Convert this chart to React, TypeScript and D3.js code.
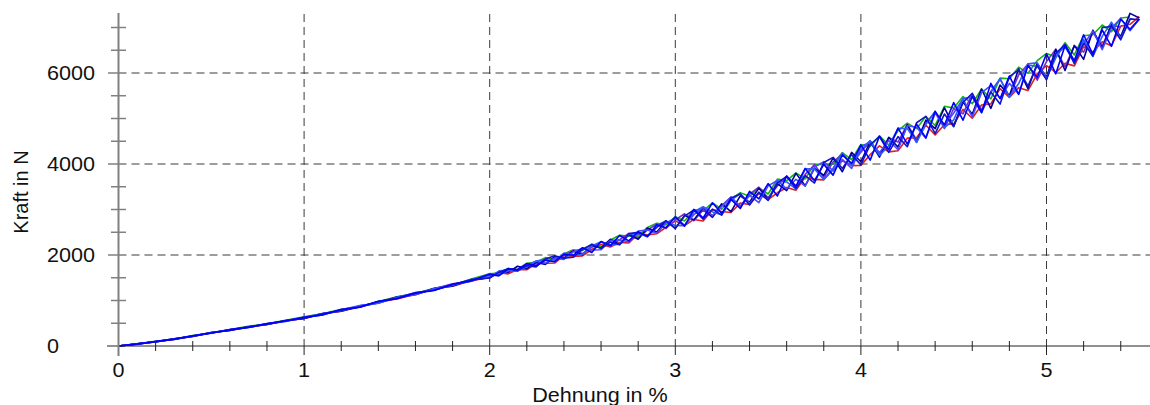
import React from 'react';
import * as d3 from 'd3';

// Dehnung in % (sample positions: 0.1 steps up to 2 %, then 0.05 steps)
const strain = [
  0, 0.1, 0.2, 0.3, 0.4, 0.5, 0.6, 0.7, 0.8, 0.9,
  1.0, 1.1, 1.2, 1.3, 1.4, 1.5, 1.6, 1.7, 1.8, 1.9,
  2.0, 2.05, 2.1, 2.15, 2.2, 2.25, 2.3, 2.35, 2.4, 2.45,
  2.5, 2.55, 2.6, 2.65, 2.7, 2.75, 2.8, 2.85, 2.9, 2.95,
  3.0, 3.05, 3.1, 3.15, 3.2, 3.25, 3.3, 3.35, 3.4, 3.45,
  3.5, 3.55, 3.6, 3.65, 3.7, 3.75, 3.8, 3.85, 3.9, 3.95,
  4.0, 4.05, 4.1, 4.15, 4.2, 4.25, 4.3, 4.35, 4.4, 4.45,
  4.5, 4.55, 4.6, 4.65, 4.7, 4.75, 4.8, 4.85, 4.9, 4.95,
  5.0, 5.05, 5.1, 5.15, 5.2, 5.25, 5.3, 5.35, 5.4, 5.45, 5.5,
];

// Kraft in N, middle of the band
const meanForce = [
  0, 45, 95, 150, 218, 290, 352, 417, 484, 551,
  620, 700, 783, 868, 960, 1055, 1150, 1245, 1342, 1440,
  1540, 1592, 1645, 1697, 1750, 1804, 1858, 1913, 1968, 2024,
  2080, 2140, 2200, 2261, 2323, 2385, 2447, 2512, 2577, 2643,
  2710, 2776, 2842, 2909, 2977, 3045, 3113, 3181, 3250, 3320,
  3390, 3467, 3545, 3624, 3703, 3782, 3862, 3946, 4030, 4115,
  4200, 4285, 4370, 4456, 4542, 4629, 4717, 4807, 4897, 4988,
  5080, 5182, 5285, 5388, 5492, 5597, 5702, 5808, 5915, 6022,
  6130, 6232, 6335, 6437, 6540, 6642, 6745, 6847, 6950, 7050, 7150,
];

// scatter of each specimen around the band (N)
const devRed = [
  0, -4, 3, -8, -2, 6, -10, -3, -12, 2, -15, 8, -20, -6, 10, -22, -10, 14, -26, -8,
  -30, 20, -60, -15, -75, 10, -40, -90, 25, -55, -100, -20, 30, -85, -45, -120, 15, -70, -110, -35,
  40, -130, -60, -160, 20, -90, -180, -40, -140, 30, -170, -100, -60, -200, 10, -120, -210, -70, 40, -150,
  -230, -80, 30, -190, -250, -60, -140, 50, -260, -120, -200, 20, -280, -90, -170, 60, -240, -130, -300, -40,
  30, -220, -120, -280, 40, -180, -60, -250, 80, 20, 90,
];
const devGreen = [
  0, 5, 8, 3, 11, -2, 9, 14, 4, 12, 20, 6, 24, -6, 18, 28, 4, 22, -8, 30,
  45, 10, 60, -15, 70, 35, 85, -20, 55, 90, 15, 100, -25, 70, 110, 30, -35, 95, 120, 20,
  130, -30, 150, 60, 170, -40, 110, 190, 40, 160, -50, 200, 90, 180, -30, 210, 130, 50, 220, -20,
  230, 100, 250, -40, 190, 270, 60, 240, -50, 280, 150, 300, 40, 260, -60, 290, 170, 320, 80, 250,
  300, 120, 330, -40, 280, 200, 310, 60, 260, 180,
];
const devPurple = [
  0, 2, -3, 6, -1, 8, -5, 5, -8, 3, 10, -12, 20, -16, 6, 18, -22, 12, 25, -14,
  20, -45, 40, -15, 55, -35, 45, -60, 20, 70, -50, 30, 85, -70, 15, 90, -80, 40, 100, -60,
  60, 130, -90, 80, -150, 40, 160, -110, 90, 170, -130, 50, 190, -150, 70, 200, -160, 100, 180, -120,
  60, 220, -170, 120, -60, 240, -190, 90, 250, -210, 140, -80, 260, -200, 100, 270, -220, 150, 280, -180,
  120, 290, -200, 160, -80, 260, -150, 200, 60,
];
const devNavy = [
  0, 3, -4, 5, -7, 4, -9, 7, -6, 8, -12, 16, -20, 13, -16, 22, -14, 18, -24, 12,
  -40, 48, -25, 55, -50, 35, -65, 50, -35, 62, -80, 70, -45, 85, -90, 60, -100, 80, -70, 105,
  -120, 95, -70, 130, -140, 80, -160, 120, -90, 150, -170, 100, -130, 170, -180, 120, -110, 190, -200, 140,
  -150, 210, -220, 130, -170, 230, -240, 160, -120, 250, -250, 180, -190, 260, -270, 140, -200, 280, -260, 190,
  -220, 290, -280, 170, -240, 300, -200, 220, -150, 260, 60,
];
const devViolet = [
  0, -4, 2, -1, 7, -8, 10, -4, 2, -10, 6, -20, 14, 20, -16, 6, -25, 20, 4, -18,
  50, -25, 12, -55, 30, 60, -40, 18, -65, 42, 70, -30, -85, 55, 10, -95, 80, 35, -100, 60,
  100, -120, 45, 140, -110, 25, 160, -140, 60, -170, 130, 170, -90, 40, -190, 150, 190, -100, 70, -210,
  180, 200, -120, 60, -230, 210, 90, -240, 220, -140, 40, 250, -250, 180, 230, -160, 70, -270, 260, 120,
  -260, 180, 240, -200, 90, 280, -230, 140, 250, -120, 30,
];
const devRoyal = [
  0, 1, -2, 4, -5, 3, 6, -7, 5, -4, 9, 14, -10, 6, -18, 15, 20, -12, -6, 22,
  -20, 55, 30, -45, -10, 65, 40, -55, 75, -20, -70, 60, 90, -40, -85, 70, 20, -105, 85, 100,
  -60, -130, 110, 150, -30, -160, 90, 170, -120, 50, -180, 160, 60, -170, 190, 110, -200, -40, 210, -140,
  100, 230, -180, -60, 240, 150, -240, 60, 260, -190, -110, 250, 190, -260, 80, 280, -230, -40, 290, 200,
  -250, 100, 300, -170, 200, -280, 60, 270, -190, 120,
];
const devDeep = [
  0, -3, 1, 6, -4, -6, 7, 2, -9, 5, -14, 10, 4, -18, 16, -8, 24, -20, 10, 18,
  -45, 25, 60, -35, 15, -65, 55, 70, -40, -75, 45, 90, -60, 25, -100, 85, 50, -95, 30, 110,
  -130, 80, 150, -120, 30, -170, 140, 160, -150, 60, -190, 120, 180, -160, 40, -200, 170, 200, -130, 90,
  -220, 140, 230, -200, 60, -250, 190, 240, -230, 110, -260, 170, 270, -240, 90, -280, 220, 260, -200, 150,
  -280, 200, 290, -230, 120, -270, 250, 180, -220, 140, 20,
];
const devBlue = [
  0, -2, 5, -4, 6, -6, 3, -8, 9, -3, 12, -15, 18, -10, 22, -18, 8, -24, 16, -8,
  35, -45, 50, -25, 60, -40, 25, -60, 45, -30, 80, -85, 95, -55, 105, -75, 65, -110, 90, -45,
  130, -140, 160, -95, 170, -130, 110, -160, 150, -85, 180, -170, 190, -110, 200, -150, 130, -190, 170, -100,
  220, -200, 240, -140, 250, -190, 160, -230, 260, -130, 270, -220, 200, -260, 280, -160, 230, -280, 250, -120,
  290, -250, 270, -170, 300, -230, 200, -260, 230, -90, 40,
];

const xTickLabels = [0, 1, 2, 3, 4, 5];
const yTickLabels = [0, 2000, 4000, 6000];

const specimens = [
  { dev: devRed, color: '#e02020' },
  { dev: devGreen, color: '#18b018' },
  { dev: devPurple, color: '#7a2cc8' },
  { dev: devNavy, color: '#0000a0' },
  { dev: devViolet, color: '#4848ff' },
  { dev: devRoyal, color: '#2a5cff' },
  { dev: devDeep, color: '#1414c8' },
  { dev: devBlue, color: '#0000ff' },
];

export default function App() {
  const W = 1150, H = 405;
  const x = d3.scaleLinear().domain([0, 5]).range([118.5, 1046.5]);
  const y = d3.scaleLinear().domain([0, 6000]).range([346, 73]);
  const line = d3.line<[number, number]>().x(d => x(d[0])).y(d => y(d[1]));

  const xMinor = d3.range(0.2, 5.5, 0.2).filter(v => Math.abs(v - Math.round(v)) > 0.01);
  const yMinor = d3.range(500, 7001, 500).filter(v => v % 2000 !== 0);
  const font = '"Liberation Sans", Arial, Helvetica, sans-serif';

  return (
    <svg width={W} height={H} style={{ position: 'absolute', left: 0, top: 0, background: '#fff' }}>
      {/* grid */}
      <g stroke="#3a3a3a" strokeWidth={1} strokeDasharray="8,5">
        {xTickLabels.filter(v => v > 0).map(v => (
          <line key={'gx' + v} x1={x(v)} x2={x(v)} y1={14} y2={346} />
        ))}
        {yTickLabels.filter(v => v > 0).map(v => (
          <line key={'gy' + v} x1={118.5} x2={W} y1={y(v)} y2={y(v)} />
        ))}
      </g>

      {/* curves */}
      <g fill="none" strokeWidth={1.6} strokeLinejoin="round">
        {specimens.map((s, i) => {
          const pts: [number, number][] = s.dev.map((d, j) => [strain[j], meanForce[j] + d]);
          return <path key={i} d={line(pts) || ''} stroke={s.color} />;
        })}
      </g>

      {/* x axis */}
      <g stroke="#222" strokeWidth={1}>
        <line x1={107} x2={W} y1={346} y2={346} />
        {xMinor.map(v => (
          <line key={'xm' + v} x1={x(v)} x2={x(v)} y1={341} y2={351} />
        ))}
        {xTickLabels.map(v => (
          <line key={'xM' + v} x1={x(v)} x2={x(v)} y1={346} y2={355} />
        ))}
      </g>

      {/* y axis */}
      <g stroke="#808080">
        <line x1={118.5} x2={118.5} y1={13} y2={356} strokeWidth={2} />
        {yMinor.map(v => (
          <line key={'ym' + v} x1={111} x2={126} y1={y(v)} y2={y(v)} strokeWidth={1.5} />
        ))}
        {yTickLabels.filter(v => v > 0).map(v => (
          <line key={'yM' + v} x1={108} x2={118.5} y1={y(v)} y2={y(v)} strokeWidth={1.5} />
        ))}
      </g>

      {/* labels */}
      <g fill="#111" fontFamily={font} fontSize={20}>
        {yTickLabels.map(v => (
          <text key={'yl' + v} transform={`translate(47,${y(v) + 7}) scale(1.08,1)`}>{v}</text>
        ))}
        {xTickLabels.map(v => (
          <text key={'xl' + v} textAnchor="middle" transform={`translate(${x(v)},377) scale(1.08,1)`}>{v}</text>
        ))}
        <text textAnchor="middle" transform="translate(600,402) scale(1.08,1)">Dehnung in %</text>
        <text textAnchor="middle" transform="translate(28,192) rotate(-90)">Kraft in N</text>
      </g>
    </svg>
  );
}
